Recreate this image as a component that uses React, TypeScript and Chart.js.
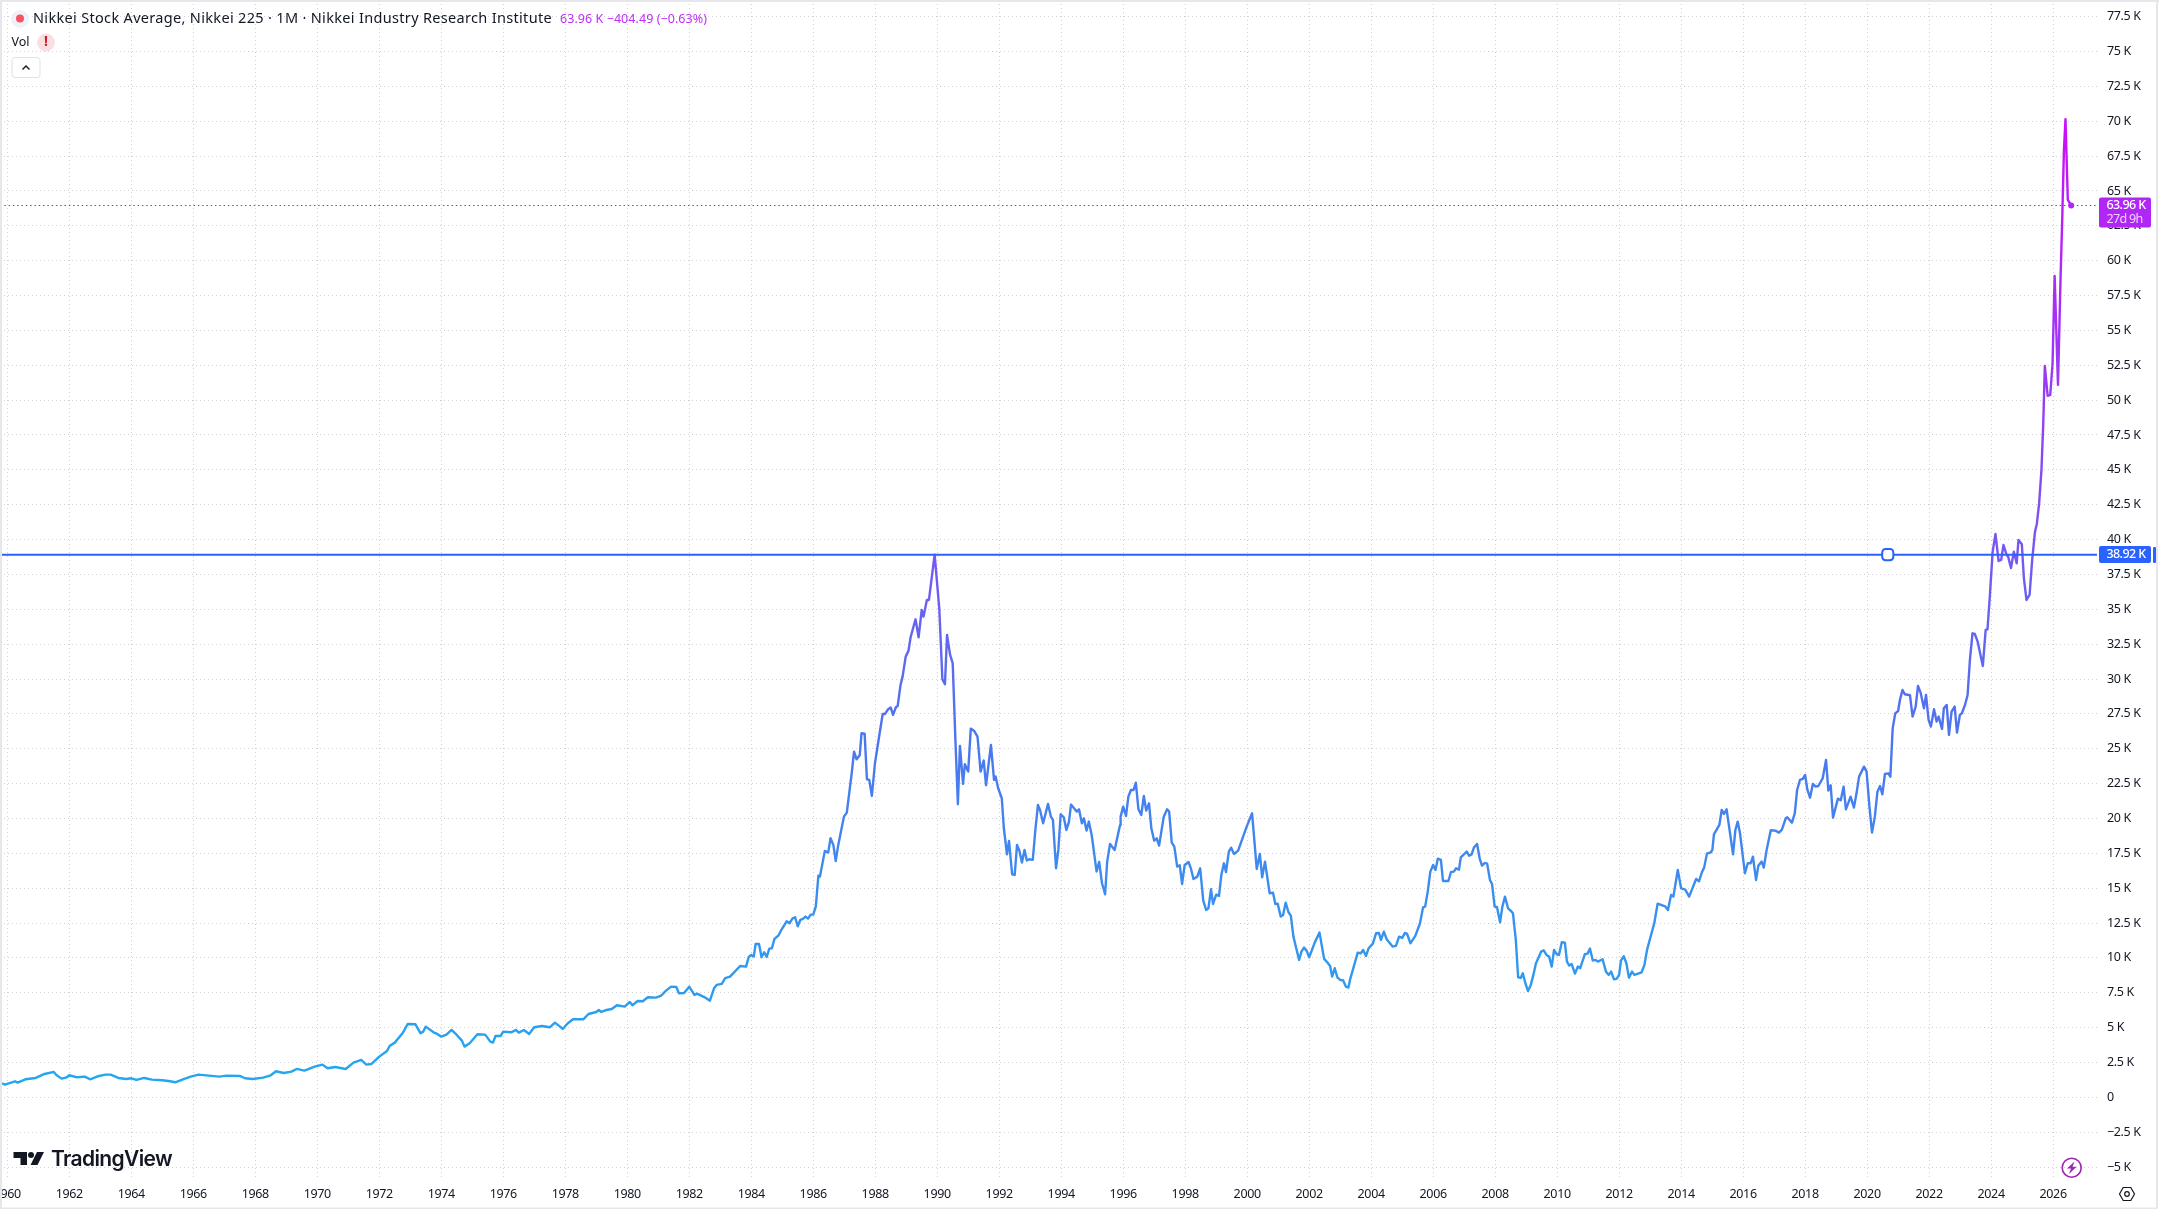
import React, { useEffect, useRef } from "react";
import { Chart, registerables } from "chart.js";

Chart.register(...registerables);

const UI_FONT = "'Noto Sans', Lato, sans-serif";

// Month offsets are months after January 1960; values are index points.
const months1960to1982 = [
  -2, -1, 3, 4, 7, 11, 14, 18, 19, 21, 23, 24, 27, 30, 32, 35, 38, 40, 43, 46, 48, 50, 53, 56, 60, 63, 65, 68, 71, 74, 78,
  82, 85, 90, 92, 95, 99, 102, 104, 107, 110, 112, 115, 119, 122, 124, 127, 131, 134, 137, 139, 141, 144, 147, 148, 150,
  153, 155, 158, 160, 161, 162, 165, 166, 168, 170, 172, 174, 176, 177, 179, 182, 185, 187, 188, 189, 191, 192, 195, 197,
  198, 200, 202, 204, 207, 210, 212, 214, 215, 217, 219, 223, 225, 228, 229, 230, 232, 234, 236, 239, 241, 242, 244, 246,
  248, 251, 253, 255, 257, 259, 260, 262, 264, 266, 267, 270, 272,
];
const closes1960to1982 = [
  1005, 910, 1148, 1053, 1292, 1387, 1650, 1818, 1603, 1340, 1435, 1579, 1435, 1483, 1292, 1507, 1626, 1626, 1387, 1316,
  1364, 1244, 1387, 1268, 1220, 1148, 1077, 1292, 1483, 1626, 1555, 1483, 1555, 1531, 1364, 1316, 1411, 1579, 1865, 1746,
  1842, 2033, 1913, 2200, 2343, 2080, 2176, 2033, 2487, 2678, 2343, 2391, 2917, 3323, 3682, 3921, 4590, 5259, 5235, 4590,
  4710, 5068, 4662, 4590, 4351, 4494, 4829, 4471, 4064, 3634, 3873, 4518, 4494, 3992, 3921, 4399, 4399, 4710, 4662, 4829,
  4638, 4829, 4542, 5020, 5116, 5020, 5355, 5068, 4901, 5307, 5594, 5594, 5976, 6120, 6263, 6120, 6263, 6335, 6598, 6502,
  6837, 6598, 6908, 6884, 7171, 7147, 7267, 7649, 7936, 7912, 7458, 7482, 7936, 7338, 7434, 7171, 6932,
];

const months1983to1986 = [
  273.6, 274.6, 276.6, 277.9, 279.8, 283.7, 286, 287, 288, 289, 289.7, 291, 292, 293, 294, 295, 296, 297, 298.6, 299.8,
  301.7, 302.8, 304, 305, 306, 307, 308, 309, 310, 311, 312, 313, 314,
];
const closes1983to1986 = [
  7820, 8060, 8130, 8540, 8650, 9420, 9374, 10043, 10210, 10090, 10999, 10999, 10043, 10400, 10067, 10665, 10689, 11358,
  11620, 12050, 12624, 12480, 12840, 12911, 12266, 12720, 12792, 12959, 12816, 13100, 13100, 13676, 15899,
];

const months1986to1995 = [
  314.6, 316.5, 317.8, 318.7, 319.8, 320.7, 321.7, 323.9, 325, 326.9, 327.8, 328.8, 330, 330.7, 331.9, 332.8, 333.7, 334.7,
  335.9, 337.6, 338.9, 339.8, 341, 342, 342.9, 344, 344.7, 345.8, 346.6, 347.8, 348.9, 349.7, 351.6, 352.8, 354, 354.7,
  356, 356.8, 359, 360.8, 362, 363, 363.8, 365, 366, 367, 368, 368.8, 370, 370.7, 372, 373, 374.3, 375.6, 376.8, 378,
  378.9, 380.8, 382, 382.6, 383.6, 385, 385.8, 387, 387.8, 389, 390, 390.9, 391.8, 392.8, 393.8, 394.7, 395.6, 397, 398,
  399, 399.8, 401, 402.9, 404, 404.8, 406, 406.9, 407.8, 409, 410, 411, 411.8, 412.9, 414, 414.9, 416, 416.8, 417.8,
  418.7, 419.8, 421.7, 422.7, 423.8, 425, 425.8, 426.9, 428.7, 429.8,
];
const closes1986to1995 = [
  15831, 17672, 17552, 18580, 18100, 16950, 18100, 20133, 20420, 23240, 24793, 24244, 24530, 26108, 26084, 22810, 22762,
  21615, 23957, 25988, 27494, 27494, 27829, 27948, 27422, 27972, 28068, 29573, 30171, 31605, 32035, 32991, 34282, 32991,
  34951, 34473, 35668, 35668, 38916, 35070, 29980, 29621, 33159, 31724, 31127, 25869, 21017, 25200, 22475, 23885, 23360,
  26443, 26276, 25869, 23360, 24148, 22380, 25271, 22762, 23000, 22165, 21448, 19297, 17432, 18388, 15998, 15950, 18100,
  17695, 16835, 17743, 16978, 17073, 17026, 19177, 20970, 20611, 19655, 21041, 20133, 19894, 16428, 17743, 20300, 20085,
  19177, 19750, 20994, 20755, 20490, 20660, 19655, 20013, 19129, 19774, 18818, 16190, 16883, 15353, 14564, 16906, 18173,
  17743, 18698,
];

const months1996to2008 = [
  430.8, 431, 432, 433.1, 434, 435, 436, 436.9, 437.9, 439, 440, 440.9, 442, 442.9, 444, 445, 445.9, 447.7, 449, 449.8,
  450.8, 451.8, 452.9, 453.9, 454.8, 455.8, 457.3, 458.2, 459.2, 460.7, 461.8, 463, 464.1, 465, 466, 466.8, 468, 469.1,
  470, 471, 471.8, 472.9, 473.8, 474.9, 476.5, 479.8, 481.9, 483.7, 484.9, 485.8, 486.9, 488.7, 490, 490.9, 491.8, 493,
  493.9, 494.9, 496, 496.9, 497.9, 500.1, 501, 502, 503, 504, 506.3, 508, 509.8, 511, 512.1, 512.9, 513.9, 514.9, 516,
  517.1, 518.2, 519.2, 519.8, 522.8, 524, 524.9, 526, 527, 528.6, 529.9, 531, 531.8, 532.9, 534, 536.3, 537.6, 538.8, 540,
  541.1, 541.9, 543.2, 545.1, 546.9, 548.1, 548.9, 549.9, 550.9, 552, 552.9, 553.8, 555, 555.8, 557.9, 558.9, 560, 560.9,
  562, 562.7, 565, 565.9, 566.9, 567.8, 569, 570, 570.9, 572, 572.9, 574, 574.8, 575.8, 576.7, 577.9, 578.8, 579.8, 581,
  582,
];
const closes1996to2008 = [
  19530, 20128, 20845, 20176, 21562, 22040, 22040, 22566, 20654, 20247, 21610, 20558, 21084, 19292, 18407, 18574, 18049,
  20128, 20654, 20486, 18264, 17977, 16543, 16639, 15300, 16663, 16878, 16424, 15659, 15826, 16424, 14105, 13436, 13555,
  14918, 13866, 14535, 14440, 15945, 16782, 16161, 17618, 17905, 17451, 17690, 19411, 20367, 16376, 17451, 15778, 16901,
  14631, 14679, 13866, 13890, 12958, 13078, 13962, 13269, 13030, 11524, 9851, 10449, 10735, 10520, 10042, 11165, 11811,
  9923, 9684, 9421, 8656, 9254, 8608, 8417, 8393, 7939, 7867, 8417, 10377, 10329, 10568, 10138, 10688, 11000, 11763,
  11787, 11285, 11882, 11333, 10807, 10855, 11524, 11428, 11787, 11715, 11046, 11572, 12480, 13627, 13675, 14750, 16184,
  16663, 16304, 17117, 17021, 15515, 15515, 16161, 16185, 16424, 16328, 17212, 17618, 17332, 17427, 17929, 18168, 17140,
  16615, 16806, 16758, 15587, 15300, 13675, 13651, 12552, 13675, 14392, 13555, 13388,
];

const months2008to2021 = [
  582.9, 584, 584.9, 585.9, 586.7, 587.7, 588.7, 589.8, 590.8, 591.8, 592.7, 593.8, 594.8, 596, 596.9, 597.9, 598.8, 599.8,
  600.7, 601.8, 603, 603.8, 604.7, 605.6, 606.9, 608, 608.9, 610.7, 611.8, 612.7, 613.8, 614.8, 615.8, 617.6, 618.9, 620,
  620.9, 622, 623, 624, 624.7, 625.8, 626.8, 627.8, 629, 629.9, 632.7, 633.8, 634.8, 637.6, 638.9, 641.8, 642.9, 644.1,
  645, 646.7, 648, 649.6, 651.1, 653.8, 654.9, 656, 656.9, 658, 659.5, 660.1, 660.7, 662.8, 663.7, 664.6, 665.6, 668.1,
  669, 669.9, 670.8, 672.7, 673.8, 674.9, 675.8, 677, 677.9, 679.2, 680, 681.1, 682.7, 684.5, 685.9, 687, 688.5, 689.1,
  690.9, 692, 692.9, 694, 695.1, 696, 696.9, 697.9, 699, 700.1, 701.1, 702.8, 704.1, 705, 705.9, 706.8, 708.7, 709.8,
  710.9, 711.8, 713.6, 714.9, 715.9, 716.9, 718.8, 719.8, 720.9, 721.9, 723, 724, 725, 725.9, 726.9, 728.2, 729, 729.9,
  730.9, 732,
];
const closes2008to2021 = [
  13198, 11286, 8610, 8562, 8896, 8179, 7629, 8060, 8777, 9613, 9971, 10449, 10545, 10187, 10091, 9374, 10569, 10259,
  10210, 11119, 11095, 9733, 9445, 9565, 8872, 9374, 9254, 10259, 10307, 10665, 9805, 9852, 9733, 9900, 9015, 8777, 9015,
  8466, 8490, 8777, 9805, 10115, 9613, 8585, 9015, 8777, 8968, 9494, 10569, 12480, 13891, 13700, 13437, 14513, 14393,
  16305, 14991, 14895, 14393, 15660, 15492, 16114, 16472, 17476, 17572, 17739, 18862, 19532, 20607, 20320, 20655, 17428,
  19173, 19770, 18934, 16066, 16783, 16783, 17261, 15588, 16616, 16902, 16472, 17739, 19149, 19125, 18982, 19197, 20009,
  20081, 19699, 20368, 22041, 22758, 22830, 23117, 22041, 21491, 22471, 22280, 22328, 22877, 24192, 21993, 22376, 20057,
  21420, 21300, 22280, 20655, 21563, 20774, 21802, 22997, 23714, 23356, 20846, 18982, 20129, 21921, 22328, 21730, 23188,
  23236, 22997, 26462, 27538, 27705,
];

const months2021to2026 = [
  732.7, 733.7, 734.6, 736.6, 737.6, 738.8, 739.7, 740.7, 742, 742.8, 743.8, 744.7, 745.9, 746.9, 747.7, 749, 749.7, 750.8,
  751.7, 752.7, 753.9, 754.8, 755.9, 756.7, 757.9, 758.9, 759.8, 760.8, 761.7, 762.8, 764.8, 765.9, 766.6, 767.5, 768.6,
  769.7, 770.9, 771.9, 772.8, 774, 774.6, 775.7, 776.8, 777.9, 778.6, 779.9, 780.7, 781.7, 782.9, 783.9, 785, 785.7, 786.6,
  787.5, 788.2, 788.8, 789.9, 790.9, 791.8, 792.6, 793.9, 794.9, 795.5, 796.2, 796.8, 797.7, 799,
];
const closes2021to2026 = [
  28498, 29215, 28904, 28833, 27303, 28020, 29502, 29024, 27900, 28856, 27064, 26586, 27829, 26944, 27303, 26419, 27900,
  28139, 25988, 27662, 28020, 26156, 27423, 27542, 28139, 28856, 31366, 33278, 33230, 32680, 30936, 33517, 33565, 35907,
  39133, 40400, 38464, 38536, 39612, 38895, 38775, 37962, 39133, 38297, 39970, 39659, 37222, 35668, 36027, 38536, 40568,
  41117, 42608, 44998, 48344, 52455, 50304, 50375, 52646, 58908, 51092, 58860, 62684, 67942, 70141, 64357, 63960,
];

const allMonths = [...months1960to1982, ...months1983to1986, ...months1986to1995, ...months1996to2008, ...months2008to2021, ...months2021to2026];
const allCloses = [...closes1960to1982, ...closes1983to1986, ...closes1986to1995, ...closes1996to2008, ...closes2008to2021, ...closes2021to2026];

const yearTicks = [1960, 1962, 1964, 1966, 1968, 1970, 1972, 1974, 1976, 1978, 1980, 1982, 1984, 1986, 1988, 1990, 1992, 1994, 1996, 1998, 2000, 2002, 2004, 2006, 2008, 2010, 2012, 2014, 2016, 2018, 2020, 2022, 2024, 2026];
const priceTicks = [-5000, -2500, 0, 2500, 5000, 7500, 10000, 12500, 15000, 17500, 20000, 22500, 25000, 27500, 30000, 32500, 35000, 37500, 40000, 42500, 45000, 47500, 50000, 52500, 55000, 57500, 60000, 62500, 65000, 67500, 70000, 72500, 75000, 77500];

const X_MIN = -2.83;
const X_MAX = 809;
const Y_MIN = -5788;
const Y_MAX = 78698;
const LAST_PRICE = 63960;
const ALERT_PRICE = 38920;
const HANDLE_MONTH = 728;

const TITLE = "Nikkei Stock Average, Nikkei 225 · 1M · Nikkei Industry Research Institute";
const QUOTE = "63.96 K −404.49 (−0.63%)";

function formatPrice(v: number): string {
  if (v === 0) return "0";
  const k = Math.abs(v) / 1000;
  return (v < 0 ? "−" : "") + k + " K";
}

function roundRect(c: any, x: number, y: number, w: number, h: number, r: number) {
  c.beginPath();
  c.roundRect(x, y, w, h, r);
}

function fitText(c: any, text: string, x: number, y: number, width: number) {
  c.letterSpacing = "0px";
  const natural = c.measureText(text).width;
  c.letterSpacing = `${(width - natural) / text.length}px`;
  c.fillText(text, x, y);
  c.letterSpacing = "0px";
}

const zeroPadding = (axis: any) => {
  axis.paddingLeft = 0;
  axis.paddingRight = 0;
  axis.paddingTop = 0;
  axis.paddingBottom = 0;
};

const overlayPlugin = {
  id: "overlay",
  beforeDraw(chart: any) {
    chart.ctx.letterSpacing = "-0.35px";
  },
  afterDraw(chart: any) {
    const c: any = chart.ctx;
    c.save();
    c.letterSpacing = "0px";
    // outer frame
    c.fillStyle = "#e6e7ea";
    c.fillRect(0, 0, 2159, 2);
    c.fillRect(0, 0, 2, 1209);
    c.fillRect(2156, 0, 2, 1209);
    c.fillRect(0, 1207.5, 2158, 1.5);

    // legend
    c.textBaseline = "middle";
    c.textAlign = "left";
    c.fillStyle = "#eef1f8";
    c.beginPath();
    c.arc(20, 19, 9, 0, Math.PI * 2);
    c.fill();
    c.fillStyle = "#f7525f";
    c.beginPath();
    c.arc(20, 18.5, 4, 0, Math.PI * 2);
    c.fill();
    c.font = `14.5px ${UI_FONT}`;
    c.fillStyle = "#131722";
    fitText(c, TITLE, 33, 19, 519);
    c.font = `12.5px ${UI_FONT}`;
    c.fillStyle = "#c22cf8";
    fitText(c, QUOTE, 560, 19, 147);
    c.fillStyle = "#131722";
    fitText(c, "Vol", 11.5, 42.5, 18);
    c.fillStyle = "#f9dfe2";
    c.beginPath();
    c.arc(46, 42.5, 9, 0, Math.PI * 2);
    c.fill();
    c.fillStyle = "#c4202f";
    c.font = `bold 14px ${UI_FONT}`;
    c.textAlign = "center";
    c.fillText("!", 46, 42.5);
    c.textAlign = "left";
    c.fillStyle = "#ffffff";
    c.strokeStyle = "#dfe1e6";
    c.lineWidth = 1;
    roundRect(c, 12, 57.5, 28, 20, 3);
    c.fill();
    c.stroke();
    c.strokeStyle = "#131722";
    c.lineWidth = 1.4;
    c.beginPath();
    c.moveTo(22.5, 69.5);
    c.lineTo(26, 66);
    c.lineTo(29.5, 69.5);
    c.stroke();

    // price badge
    c.fillStyle = "#b026f5";
    roundRect(c, 2099, 197.5, 52, 30, 2);
    c.fill();
    c.font = `500 12.5px ${UI_FONT}`;
    c.fillStyle = "#ffffff";
    fitText(c, "63.96 K", 2106.5, 205.5, 39);
    c.font = `12.5px ${UI_FONT}`;
    c.fillStyle = "rgba(255,255,255,0.8)";
    fitText(c, "27d 9h", 2106.5, 219.5, 36);

    // alert badge
    c.fillStyle = "#2962ff";
    roundRect(c, 2099, 546, 52, 17, 2);
    c.fill();
    roundRect(c, 2153, 547, 3, 16, 1);
    c.fill();
    c.font = `500 12.5px ${UI_FONT}`;
    c.fillStyle = "#ffffff";
    fitText(c, "38.92 K", 2106.5, 554.7, 39);

    // TradingView logo
    c.fillStyle = "#131722";
    c.beginPath();
    c.moveTo(13.5, 1152);
    c.lineTo(27, 1152);
    c.lineTo(27, 1165);
    c.lineTo(20.5, 1165);
    c.lineTo(20.5, 1158);
    c.lineTo(13.5, 1158);
    c.closePath();
    c.fill();
    c.beginPath();
    c.arc(31, 1155, 3, 0, Math.PI * 2);
    c.fill();
    c.beginPath();
    c.moveTo(37, 1152);
    c.lineTo(44, 1152);
    c.lineTo(37.5, 1165);
    c.lineTo(30.5, 1165);
    c.closePath();
    c.fill();
    c.font = "600 21px Inter, sans-serif";
    fitText(c, "TradingView", 51, 1159.5, 121);

    // lightning icon
    c.strokeStyle = "#9c27b0";
    c.lineWidth = 1.6;
    c.beginPath();
    c.arc(2071.7, 1167.7, 9.5, 0, Math.PI * 2);
    c.stroke();
    c.fillStyle = "#9c27b0";
    c.beginPath();
    c.moveTo(2074.5, 1161.5);
    c.lineTo(2067, 1168.5);
    c.lineTo(2071, 1168.5);
    c.lineTo(2069, 1174);
    c.lineTo(2076.5, 1166.8);
    c.lineTo(2072.5, 1166.8);
    c.closePath();
    c.fill();

    // settings icon
    c.strokeStyle = "#131722";
    c.lineWidth = 1.2;
    c.beginPath();
    const hx = 2127;
    const hy = 1194;
    c.moveTo(hx - 7.5, hy);
    c.lineTo(hx - 3.8, hy - 6.5);
    c.lineTo(hx + 3.8, hy - 6.5);
    c.lineTo(hx + 7.5, hy);
    c.lineTo(hx + 3.8, hy + 6.5);
    c.lineTo(hx - 3.8, hy + 6.5);
    c.closePath();
    c.stroke();
    c.beginPath();
    c.arc(hx, hy, 2.3, 0, Math.PI * 2);
    c.stroke();
    c.restore();
  },
};

export default function App() {
  const ref = useRef<HTMLCanvasElement | null>(null);

  useEffect(() => {
    if (!ref.current) return;
    const gradient = (ctx: any) => {
      const { chart } = ctx;
      const y = chart.scales?.y;
      if (!y || !chart.chartArea) return "#3b82f0";
      const g = chart.ctx.createLinearGradient(0, y.getPixelForValue(70000), 0, y.getPixelForValue(0));
      g.addColorStop(0, "#cb0ffb");
      g.addColorStop(0.43, "#7a55f2");
      g.addColorStop(0.62, "#4d74ef");
      g.addColorStop(0.78, "#3c8cee");
      g.addColorStop(1, "#1eaaf1");
      return g;
    };
    const chart = new Chart(ref.current, {
      type: "line",
      data: {
        datasets: [
          {
            data: [{ x: HANDLE_MONTH, y: ALERT_PRICE }],
            showLine: false,
            pointStyle: "rectRounded",
            pointRadius: 6.5,
            pointBorderWidth: 2,
            pointBackgroundColor: "#ffffff",
            pointBorderColor: "#2962ff",
          },
          {
            data: [{ x: X_MIN, y: ALERT_PRICE }, { x: X_MAX, y: ALERT_PRICE }],
            borderColor: "#2962ff",
            borderWidth: 2,
            pointRadius: 0,
          },
          {
            data: [{ x: allMonths[allMonths.length - 1], y: allCloses[allCloses.length - 1] }],
            showLine: false,
            pointRadius: 3,
            pointBorderWidth: 0,
            pointBackgroundColor: "#b026f5",
          },
          {
            data: allMonths.map((m, i) => ({ x: m, y: allCloses[i] })),
            borderColor: gradient,
            borderWidth: 2.4,
            pointRadius: 0,
            tension: 0,
            borderJoinStyle: "round",
          },
          {
            data: [{ x: X_MIN, y: LAST_PRICE }, { x: X_MAX, y: LAST_PRICE }],
            borderColor: "#a81ff0",
            borderWidth: 1,
            borderDash: [1.5, 2.8],
            pointRadius: 0,
          },
        ],
      },
      options: {
        animation: false,
        responsive: false,
        devicePixelRatio: 1,
        layout: { padding: 0, autoPadding: false },
        plugins: { legend: { display: false }, tooltip: { enabled: false } },
        scales: {
          x: {
            type: "linear",
            min: X_MIN,
            max: X_MAX,
            afterBuildTicks: (axis: any) => {
              axis.ticks = yearTicks.map((y) => ({ value: (y - 1960) * 12 }));
            },
            afterFit: (axis: any) => {
              axis.height = 39;
              zeroPadding(axis);
            },
            afterUpdate: zeroPadding,
            ticks: {
              autoSkip: false,
              maxRotation: 0,
              minRotation: 0,
              padding: 9,
              color: "#131722",
              font: { family: UI_FONT, size: 12.5 },
              callback: (v: any) => String(1960 + Number(v) / 12),
            },
            grid: { color: "#cfd1d6", lineWidth: 1, drawTicks: false },
            border: { display: false, dash: [1, 3] },
          },
          y: {
            type: "linear",
            position: "right",
            min: Y_MIN,
            max: Y_MAX,
            afterBuildTicks: (axis: any) => {
              axis.ticks = priceTicks.map((v) => ({ value: v }));
            },
            afterFit: (axis: any) => {
              axis.width = 62;
              zeroPadding(axis);
            },
            afterUpdate: zeroPadding,
            ticks: {
              autoSkip: false,
              padding: 10,
              color: "#131722",
              font: { family: UI_FONT, size: 12.5 },
              callback: (v: any) => formatPrice(Number(v)),
            },
            grid: { color: "#cfd1d6", lineWidth: 1, drawTicks: false },
            border: { display: false, dash: [1, 3] },
          },
        },
      },
      plugins: [overlayPlugin],
    } as any);
    return () => chart.destroy();
  }, []);

  return (
    <canvas
      ref={ref}
      width={2159}
      height={1217}
      style={{ position: "absolute", left: 0, top: 0, display: "block", background: "#ffffff" }}
    />
  );
}
